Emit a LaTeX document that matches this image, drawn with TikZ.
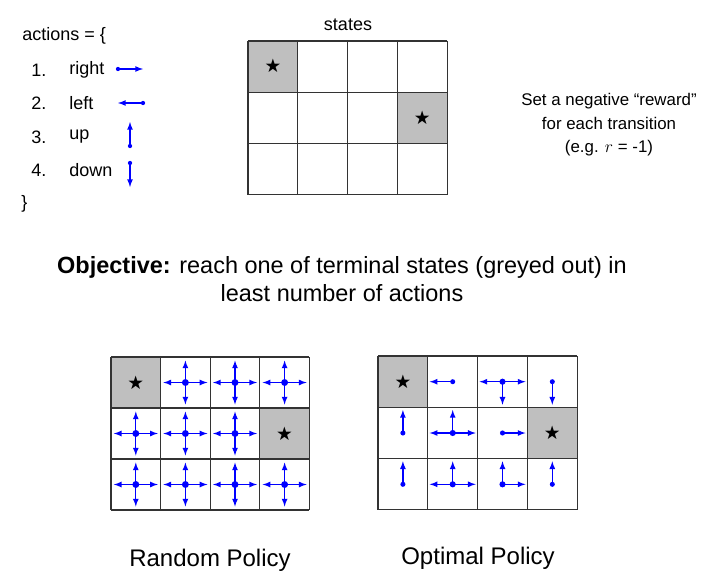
\documentclass[tikz,border=0pt]{standalone}
\usepackage{fontspec}
\setmainfont{Liberation Sans}
\newfontfamily\symfont{DejaVu Sans}
\usetikzlibrary{positioning}

\begin{document}
\begin{tikzpicture}[x=0.75pt,y=0.75pt,yscale=-1,xscale=1,
  gridline/.style={draw=black!80,line width=0.8pt},
  terminal/.style={fill=black!25},
  act/.style={draw=blue,line width=1pt,-latex},
  stars/.style={inner sep=0pt,font=\symfont\fontsize{14}{14}\selectfont},
  lbl/.style={inner sep=0.75pt,font=\fontsize{13.5}{16}\selectfont}]
\useasboundingbox (0,0) rectangle (727,582);

% action list
\node [lbl,anchor=west] (acts) at (21,36) {actions = \{};
\node [lbl,anchor=west] (n1) at (30,70) {1.};
\node [lbl,anchor=west] (n2) at (30,103) {2.};
\node [lbl,anchor=west] (n3) at (30,137) {3.};
\node [lbl,anchor=west] (n4) at (30,170) {4.};
\node [lbl,anchor=west] (right) at (68,70) {right};
\node [lbl,anchor=west] (left) at (68,103) {left};
\node [lbl,anchor=west] (up) at (68,137) {up};
\node [lbl,anchor=west] (down) at (68,170) {down};
\node [lbl,anchor=west] (close) at (20,204) {\}};
\coordinate (aright) at (118,69);
\coordinate (aleft) at (143,103);
\coordinate (aup) at (130,146);
\coordinate (adown) at (130,163);
\draw [act] (aright) -- ++(25,0);
\draw [act] (aleft) -- ++(-25,0);
\draw [act] (aup) -- ++(0,-24);
\draw [act] (adown) -- ++(0,24);
\foreach \p in {aright,aleft,aup,adown} \fill [blue] (\p) circle (1.6pt);

% states grid
\node [lbl] (states) at (348,25) {states};
\fill [terminal] (248,41) rectangle (297.8,92.3);
\fill [terminal] (397.4,92.3) rectangle (447.2,143.6);
\foreach \i in {0,...,4} \draw [gridline] (248+49.8*\i,41) -- (248+49.8*\i,195);
\foreach \j in {0,...,3} \draw [gridline] (248,41+51.3*\j) -- (447.2,41+51.3*\j);
\node [stars] (s1) at (273,66) {★};
\node [stars] (s2) at (422.3,118) {★};

\node [align=center,inner sep=0.75pt,font=\fontsize{11.5}{16.1}\selectfont,scale=1.1] (reward) at (609,125)
  {Set a negative “reward”\\for each transition\\(e.g. {\rmfamily$r$} = -1)};

\node [align=center,inner sep=0.75pt,font=\fontsize{17.6}{21}\selectfont] (obj) at (342,279)
  {\textbf{Objective:} reach one of terminal states (greyed out) in\\least number of actions};

% random policy
\fill [terminal] (111,357) rectangle (160.6,408);
\fill [terminal] (259.8,408) rectangle (309.4,459);
\foreach \i in {0,...,4} \draw [gridline] (111+49.6*\i,357) -- (111+49.6*\i,510);
\foreach \j in {0,...,3} \draw [gridline] (111,357+51*\j) -- (309.4,357+51*\j);
\node [stars] (s3) at (135.8,382.5) {★};
\node [stars] (s4) at (284.6,433.5) {★};
\foreach \c/\r in {1/0,2/0,3/0,0/1,1/1,2/1,0/2,1/2,2/2,3/2} {
  \coordinate (r\c\r) at (135.8+49.6*\c,382.5+51*\r);
  \draw [act] (r\c\r) -- ++(22,0);
  \draw [act] (r\c\r) -- ++(-22,0);
  \draw [act] (r\c\r) -- ++(0,-22);
  \draw [act] (r\c\r) -- ++(0,22);
  \fill [blue] (r\c\r) circle (2.6pt);
}
\node [inner sep=0.75pt,font=\fontsize{18}{21}\selectfont] (random) at (210,560) {Random Policy};

% optimal policy
\fill [terminal] (378,356) rectangle (427.8,407.3);
\fill [terminal] (527.4,407.3) rectangle (577.2,458.6);
\foreach \i in {0,...,4} \draw [gridline] (378+49.8*\i,356) -- (378+49.8*\i,510);
\foreach \j in {0,...,3} \draw [gridline] (378,356+51.3*\j) -- (577.2,356+51.3*\j);
\node [stars] (s5) at (402.9,381.7) {★};
\node [stars] (s6) at (552.3,433) {★};
\foreach \c in {0,...,3} \foreach \r in {0,1,2} \coordinate (o\c\r) at (402.9+49.8*\c,381.7+51.3*\r);
\draw [act] (o10) -- ++(-23,0);
\draw [act] (o20) -- ++(-23,0);
\draw [act] (o20) -- ++(23,0);
\draw [act] (o20) -- ++(0,23);
\draw [act] (o30) -- ++(0,23);
\draw [act] (o01) -- ++(0,-23);
\draw [act] (o11) -- ++(-23,0);
\draw [act] (o11) -- ++(23,0);
\draw [act] (o11) -- ++(0,-23);
\draw [act] (o21) -- ++(23,0);
\draw [act] (o02) -- ++(0,-23);
\draw [act] (o12) -- ++(-23,0);
\draw [act] (o12) -- ++(23,0);
\draw [act] (o12) -- ++(0,-23);
\draw [act] (o22) -- ++(23,0);
\draw [act] (o22) -- ++(0,-23);
\draw [act] (o32) -- ++(0,-23);
\foreach \p in {o10,o30,o01,o21,o02,o32} \fill [blue] (\p) circle (1.9pt);
\foreach \p in {o20,o11,o12,o22} \fill [blue] (\p) circle (2.3pt);
\node [inner sep=0.75pt,font=\fontsize{18}{21}\selectfont] (optimal) at (478,558) {Optimal Policy};
\end{tikzpicture}
\end{document}
